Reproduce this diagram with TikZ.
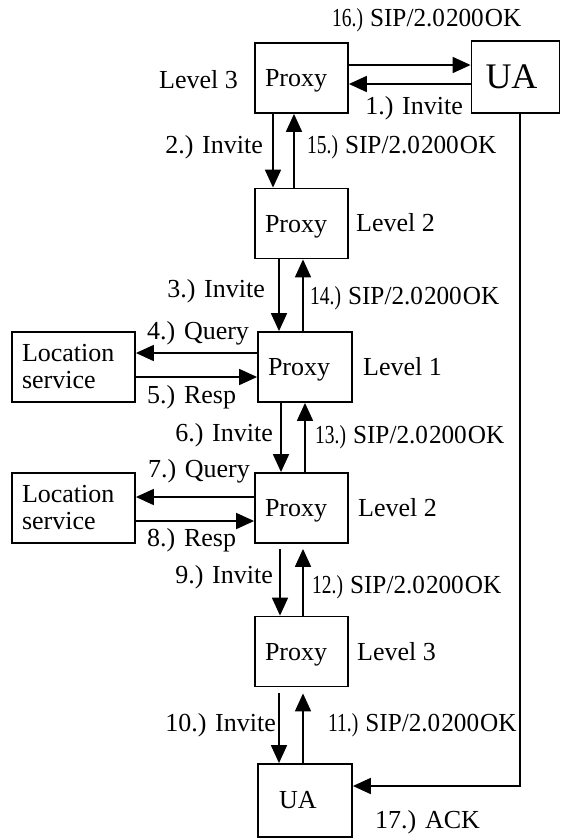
\documentclass[tikz,border=0pt]{standalone}
\usepackage{fontspec}
\usepackage{graphicx}
\setmainfont{Liberation Serif}
\usetikzlibrary{arrows.meta,calc}
\newcommand\sipok[1]{\scalebox{0.75}[1]{#1.)}\hspace{7pt}\scalebox{0.97}[1]{SIP/2.0\hspace{1pt}200\hspace{1pt}OK}}
\begin{document}
\begin{tikzpicture}[x=1pt,y=-1pt,
  box/.style={draw,line width=1.8pt,inner xsep=10pt,inner ysep=0pt,text width=73pt,align=left,minimum height=70pt,font=\fontsize{26}{27}\selectfont},
  pbox/.style={box,text depth=0pt},
  lbl/.style={inner sep=0pt,font=\fontsize{26}{27}\selectfont},
  arr/.style={line width=1.8pt,-{Triangle[length=18pt,width=16pt]}}]
\useasboundingbox (0,0) rectangle (562,839);
% nodes
\node[pbox] (P3t) at (301.5,78) {Proxy};
\node[box,inner xsep=14pt,text width=60pt,minimum height=72pt,font=\fontsize{36}{40}\selectfont] (UAt) at (515.5,77) {UA};
\node[pbox] (P2t) at (301.5,223.5) {Proxy};
\node[pbox,text width=74pt] (P1) at (305,367) {Proxy};
\node[box,text width=103pt] (L1) at (73.5,367) {Location\\service};
\node[pbox] (P2b) at (301.5,508) {Proxy};
\node[box,text width=103pt] (L2) at (73.5,508) {Location\\service};
\node[pbox] (P3b) at (301.5,651.5) {Proxy};
\node[box,inner xsep=21pt,text width=52pt,minimum height=73pt] (UAb) at (305,800.5) {UA};
% helper coordinates
\coordinate (r16) at (0,65);
\coordinate (r1) at (0,84);
\coordinate (r4) at (0,353);
\coordinate (r5) at (0,377);
\coordinate (r7) at (0,497);
\coordinate (r8) at (0,521);
\coordinate (ack) at (520,786);
\coordinate (dA) at (273,0); \coordinate (uA) at (294,0);
\coordinate (dB) at (279,0); \coordinate (uB) at (303,0);
\coordinate (dC) at (281,0); \coordinate (uC) at (305,0);
\coordinate (dD) at (280,0); \coordinate (uD) at (303,0);
\coordinate (dE) at (279,0); \coordinate (uE) at (303,0);
% horizontal arrows
\draw[arr] (P3t.east |- r16) -- (UAt.west |- r16);
\draw[arr] (UAt.west |- r1) -- (P3t.east |- r1);
\draw[arr] (P1.west |- r4) -- (L1.east |- r4);
\draw[arr] (L1.east |- r5) -- (P1.west |- r5);
\draw[arr] (P2b.west |- r7) -- (L2.east |- r7);
\draw[arr] (L2.east |- r8) -- (P2b.west |- r8);
% vertical arrows
\draw[arr] (P3t.south -| dA) -- (P2t.north -| dA);
\draw[arr] (P2t.north -| uA) -- (P3t.south -| uA);
\draw[arr] (P2t.south -| dB) -- (P1.north -| dB);
\draw[arr] (P1.north -| uB) -- (P2t.south -| uB);
\draw[arr] (P1.south -| dC) -- (P2b.north -| dC);
\draw[arr] (P2b.north -| uC) -- (P1.south -| uC);
\draw[arr,shorten <=5pt] (P2b.south -| dD) -- (P3b.north -| dD);
\draw[arr,shorten >=5pt] (P3b.north -| uD) -- (P2b.south -| uD);
\draw[arr,shorten <=6pt] (P3b.south -| dE) -- (UAb.north -| dE);
\draw[arr,shorten >=6pt] (UAb.north -| uE) -- (P3b.south -| uE);
% ACK
\draw[arr] (UAt.south -| ack) |- (UAb.east |- ack);
% labels
\node[lbl,anchor=west] at (332,20) {\sipok{16}};
\node[lbl,anchor=east] at (463,108) {1.) Invite};
\node[lbl,anchor=east] at (238,80) {Level 3};
\node[lbl,anchor=east] at (263,147) {2.) Invite};
\node[lbl,anchor=west] at (307,147) {\sipok{15}};
\node[lbl,anchor=west] at (356,223) {Level 2};
\node[lbl,anchor=east] at (265,291) {3.) Invite};
\node[lbl,anchor=west] at (310,298) {\sipok{14}};
\node[lbl,anchor=west] at (147,333) {4.) Query};
\node[lbl,anchor=west] at (147,397) {5.) Resp};
\node[lbl,anchor=west] at (363,367) {Level 1};
\node[lbl,anchor=east] at (273,435) {6.) Invite};
\node[lbl,anchor=west] at (315,437) {\sipok{13}};
\node[lbl,anchor=east] at (250,471) {7.) Query};
\node[lbl,anchor=west] at (147,540) {8.) Resp};
\node[lbl,anchor=west] at (358,508) {Level 2};
\node[lbl,anchor=east] at (273,577) {9.) Invite};
\node[lbl,anchor=west] at (312,587) {\sipok{12}};
\node[lbl,anchor=west] at (357,652) {Level 3};
\node[lbl,anchor=east] at (276,725) {10.) Invite};
\node[lbl,anchor=west] at (328,725) {\sipok{11}};
\node[lbl,anchor=west] at (375,822) {17.) ACK};
\end{tikzpicture}
\end{document}
